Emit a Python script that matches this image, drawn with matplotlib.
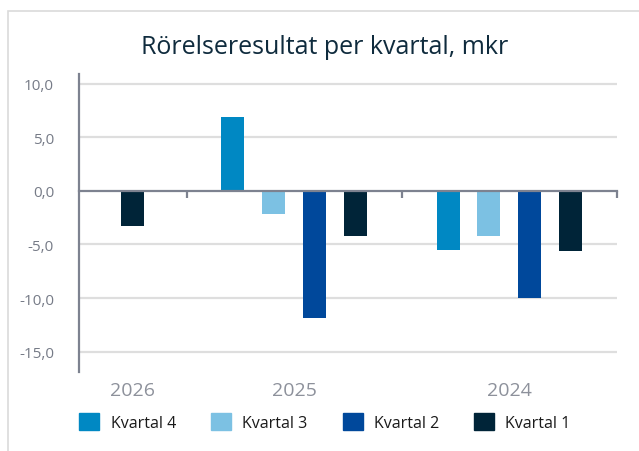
import matplotlib
matplotlib.use("Agg")
from matplotlib import pyplot as plt
from matplotlib.patches import Rectangle
import numpy as np

plt.rcParams["font.family"] = ["Open Sans", "DejaVu Sans"]

# data
years = ["2026", "2025", "2024"]
series = ["Kvartal 4", "Kvartal 3", "Kvartal 2", "Kvartal 1"]
kv4 = [np.nan, 6.9, -5.5]
kv3 = [np.nan, -2.2, -4.2]
kv2 = [np.nan, -11.9, -10.0]
kv1 = [-3.3, -4.2, -5.6]
colors = ["#0088c3", "#7cc1e3", "#00489b", "#002438"]
yticks = [10, 5, 0, -5, -10, -15]

values = [kv4, kv3, kv2, kv1]

fig = plt.figure(figsize=(6.39, 4.52), dpi=100)
ax = fig.add_axes([79 / 639, 1 - 373 / 452, (617 - 79) / 639, (373 - 75) / 452])

# 2026 only half a category wide, the others full
bounds = [0, 1, 3, 5]
centers = [(bounds[i] + bounds[i + 1]) / 2 for i in range(3)]
step = 0.38
width = 0.214

for i in range(len(years)):
    present = [k for k in range(4) if not np.isnan(values[k][i])]
    n = len(present)
    for j, k in enumerate(present):
        x = centers[i] + (j - (n - 1) / 2) * step
        ax.bar(x, values[k][i], width=width, color=colors[k], zorder=3)

ax.set_xlim(0, 5)
ax.set_ylim(-16.9, 10.9)
ax.set_yticks(yticks)
ax.set_yticklabels([("%.1f" % v).replace(".", ",") for v in yticks],
                   fontsize=11, color="#767b87")
ax.tick_params(axis="y", length=0, pad=18)
for v in yticks:
    if v != 0:
        ax.axhline(v, color="#dedede", lw=1.6, zorder=1)

for s in ["top", "right"]:
    ax.spines[s].set_visible(False)
ax.spines["left"].set_color("#7d8290")
ax.spines["left"].set_linewidth(1.6)
ax.spines["bottom"].set_position(("data", 0))
ax.spines["bottom"].set_color("#7d8290")
ax.spines["bottom"].set_linewidth(1.6)
ax.spines["bottom"].set_zorder(4)
ax.set_xticks(bounds[1:])
ax.set_xticklabels([])
ax.tick_params(axis="x", length=5, width=1.6, color="#7d8290", direction="out")

for i, y in enumerate(years):
    ax.text(centers[i], -0.03, y, transform=ax.get_xaxis_transform(),
            ha="center", va="top", fontsize=14, color="#8d919b")

fig.text(325 / 639, 1 - 48 / 452, "Rörelseresultat per kvartal, mkr",
         ha="center", va="center", fontsize=18, color="#0f2b3d")

handles = [Rectangle((0, 0), 1, 1, color=c) for c in colors]
fig.legend(handles, series, loc="center", bbox_to_anchor=(325 / 639, 1 - 423 / 452),
           ncol=4, frameon=False, fontsize=11.5, handlelength=1.25, handleheight=1.25,
           handletextpad=0.7, columnspacing=2.2, labelcolor="#1a1a1a")

fig.patches.append(Rectangle((8 / 639, -0.1), 1.2, 1 - 12 / 452 + 0.1,
                             transform=fig.transFigure, fill=False,
                             edgecolor="#dadada", lw=1.2))

fig.savefig("out.png", dpi=100)
